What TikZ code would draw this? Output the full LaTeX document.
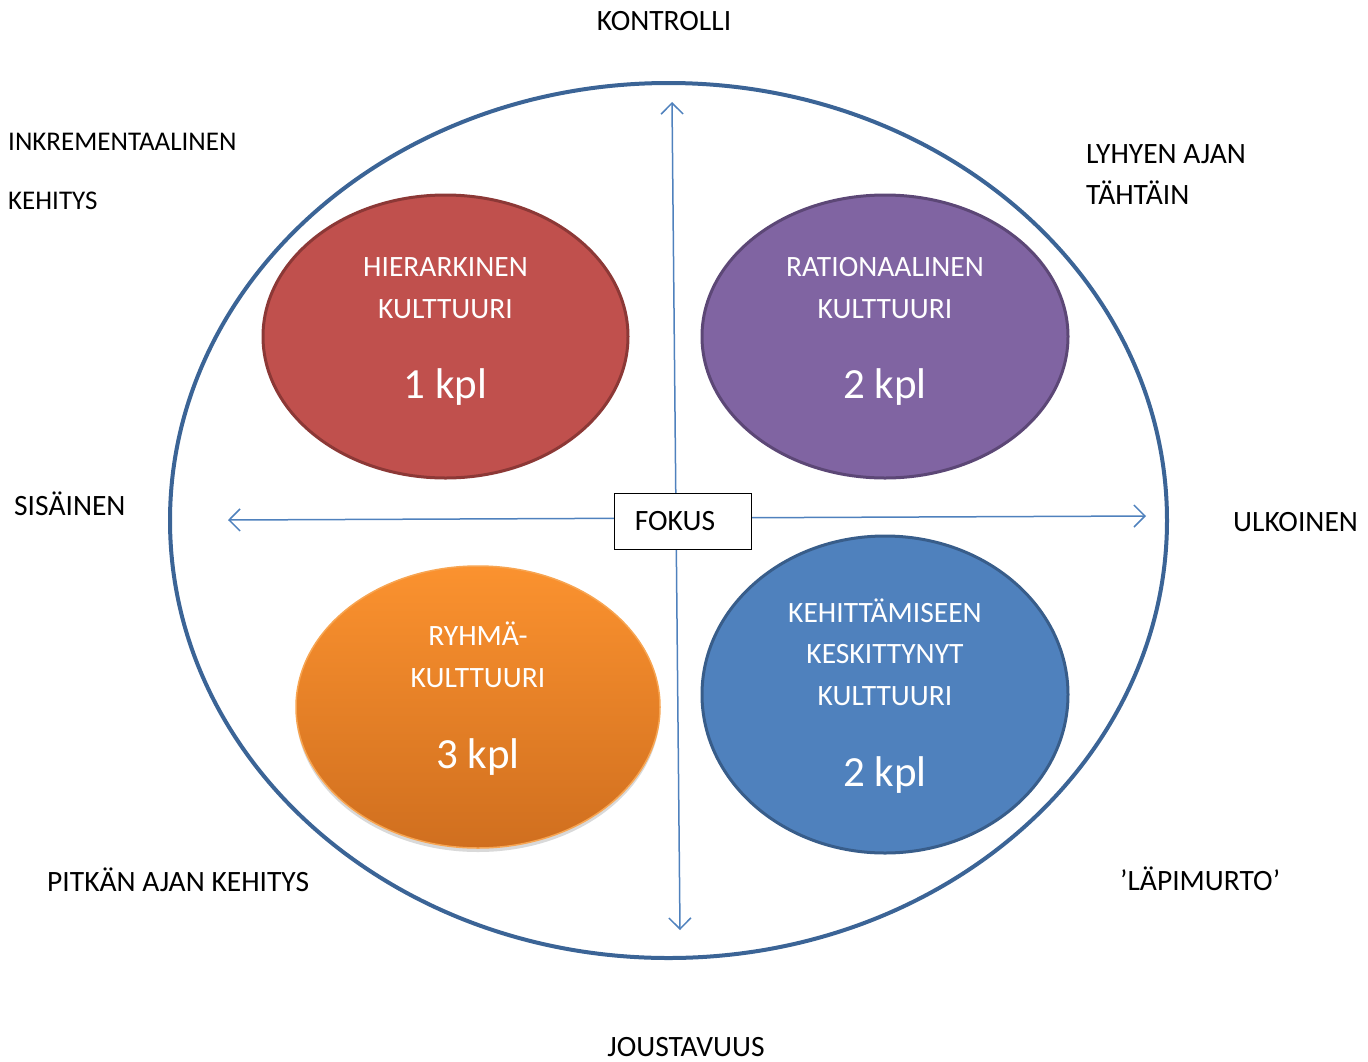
\documentclass[tikz,border=0pt]{standalone}
\usepackage{fontspec}
\setmainfont{Carlito}
\usetikzlibrary{arrows.meta,shadows,shapes.geometric}
\definecolor{outerblue}{HTML}{3B6496}
\definecolor{arrowblue}{HTML}{4F81BD}
\definecolor{redfill}{HTML}{C0504D}
\definecolor{redline}{HTML}{8C3836}
\definecolor{purpfill}{HTML}{8064A2}
\definecolor{purpline}{HTML}{5C4776}
\definecolor{bluefill}{HTML}{4F81BD}
\definecolor{blueline}{HTML}{385D8A}
\definecolor{orgtop}{HTML}{FB922F}
\definecolor{orgbot}{HTML}{D06F1F}
\definecolor{orgline}{HTML}{F7A552}
\tikzset{
  lbl/.style={inner sep=0pt, font=\fontsize{29.5}{34}\selectfont, anchor=base west},
  slbl/.style={inner sep=0pt, font=\fontsize{27}{32}\selectfont, anchor=base west},
  clbl/.style={inner sep=0pt, font=\fontsize{29.5}{34}\selectfont, anchor=base},
  inl/.style={inner sep=0pt, font=\fontsize{29.5}{34}\selectfont, anchor=base, text=white},
  big/.style={inner sep=0pt, font=\fontsize{43}{50}\selectfont, anchor=base, text=white},
  arr/.style={draw=arrowblue, line width=1.5pt, {Straight Barb[length=11pt,width=22pt]}-{Straight Barb[length=11pt,width=22pt]}},
}
\begin{document}
\begin{tikzpicture}[x=1pt,y=-1pt]
\useasboundingbox (0,0) rectangle (1368,1061);
% outer ellipse
\node[draw=outerblue, line width=4pt, ellipse, minimum width=997pt, minimum height=875pt, inner sep=0pt] (outer) at (668.5,520.5) {};
% quadrant ellipses
\node[draw=redline, fill=redfill, line width=3pt, ellipse, minimum width=365pt, minimum height=283pt, inner sep=0pt] (hier) at (445.5,336.5) {};
\node[draw=purpline, fill=purpfill, line width=3pt, ellipse, minimum width=366pt, minimum height=283pt, inner sep=0pt] (rat) at (885,336.5) {};
\node[draw=orgline, top color=orgtop, bottom color=orgbot, line width=1.5pt, ellipse, minimum width=364pt, minimum height=282pt, inner sep=0pt,
  drop shadow={shadow xshift=0pt, shadow yshift=-4pt, opacity=0.25, fill=black!60}] (ryh) at (478,707) {};
\node[draw=blueline, fill=bluefill, line width=3pt, ellipse, minimum width=366pt, minimum height=317pt, inner sep=0pt] (keh) at (885,694.5) {};
% ellipse texts
\node[inl] (h1) at (445.5,276) {HIERARKINEN};
\node[inl] (h2) at (445.5,318) {KULTTUURI};
\node[big] (h3) at (445.5,398) {1 kpl};
\node[inl] (r1) at (885,276) {RATIONAALINEN};
\node[inl] (r2) at (885,318) {KULTTUURI};
\node[big] (r3) at (885,398) {2 kpl};
\node[inl] (y1) at (478,645) {RYHMÄ-};
\node[inl] (y2) at (478,687) {KULTTUURI};
\node[big] (y3) at (478,768) {3 kpl};
\node[inl] (k1) at (885,622) {KEHITTÄMISEEN};
\node[inl] (k2) at (885,663) {KESKITTYNYT};
\node[inl] (k3) at (885,705) {KULTTUURI};
\node[big] (k4) at (885,786) {2 kpl};
% axes
\coordinate (vt) at (672,102);
\coordinate (vb) at (680,930);
\coordinate (hl) at (228,520);
\coordinate (hr) at (1146,516);
\draw[arr] (vb) -- (vt);
\draw[arr] (hl) -- (hr);
\node[draw=black, fill=white, line width=1pt, minimum width=137pt, minimum height=56pt, inner sep=0pt] (fokus) at (682.5,521) {};
\node[clbl] (fokustxt) at (675,530) {FOKUS};
% outside labels
\node[clbl] (kon) at (664,30) {KONTROLLI};
\node[clbl] (jou) at (686,1056) {JOUSTAVUUS};
\node[slbl] (ink1) at (8,150) {INKREMENTAALINEN};
\node[slbl] (ink2) at (8,209) {KEHITYS};
\node[lbl] (lyh1) at (1086,163) {LYHYEN AJAN};
\node[lbl] (lyh2) at (1086,204) {TÄHTÄIN};
\node[lbl] (sis) at (14,515) {SISÄINEN};
\node[lbl] (ulk) at (1233,531) {ULKOINEN};
\node[lbl] (pit) at (47,891) {PITKÄN AJAN KEHITYS};
\node[lbl] (lap) at (1120,890) {’LÄPIMURTO’};
\end{tikzpicture}
\end{document}
